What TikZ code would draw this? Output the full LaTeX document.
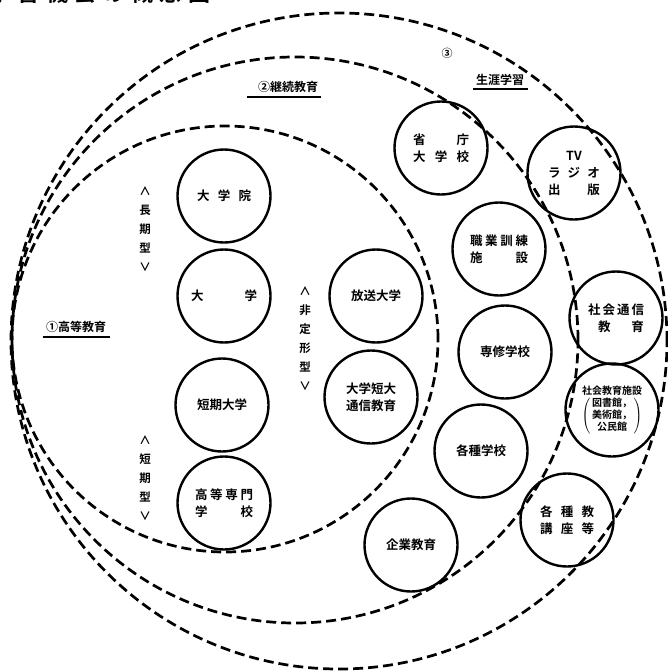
\documentclass[tikz,border=0pt]{standalone}
\usepackage{fontspec}
\setmainfont{Noto Sans CJK JP}[BoldFont={Noto Sans CJK JP Bold}]
\newcommand\spreadtxt[2]{\makebox[#1][s]{#2}}
\begin{document}
\begin{tikzpicture}[x=1pt,y=-1pt,
  zone/.style={circle, draw, line width=2.7pt, dash pattern=on 10pt off 5pt, inner sep=0pt},
  sub/.style={circle, draw, line width=2.4pt, minimum size=93pt, inner sep=0pt, align=center,
    font=\bfseries\fontsize{12.5}{17}\selectfont},
  lab/.style={font=\bfseries\fontsize{12}{14}\selectfont, inner sep=1pt},
  vlab/.style={font=\bfseries\fontsize{11.5}{19}\selectfont, align=center, inner sep=0pt},
  uline/.style={line width=1.6pt}]
\useasboundingbox (0,0) rectangle (667,672);

% title, cut off at the top edge
\node[anchor=base west, inner sep=0pt, font=\bfseries\fontsize{22}{22}\selectfont] (title) at (-11,1)
  {\spreadtxt{221pt}{学\hfill 習\hfill 機\hfill 会\hfill の\hfill 概\hfill 念\hfill 図}};

% zones
\node[zone, minimum size=656pt] (life) at (339,341) {};
\node[zone, minimum size=566pt] (cont) at (295,340) {};
\node[zone, minimum size=426pt] (high) at (225,339) {};

% zone labels
\node[lab] (l1) at (76,327) {①高等教育};
\draw[uline] ([xshift=-2pt,yshift=-3pt]l1.south west) -- ([xshift=3pt,yshift=-3pt]l1.south east);
\node[lab] (l2) at (288,87) {②継続教育};
\draw[uline] ([xshift=-10pt,yshift=-3pt]l2.south west) -- ([xshift=2pt,yshift=-3pt]l2.south east);
\node[lab, font=\bfseries\fontsize{11}{12}\selectfont] (l3) at (447,53) {③};
\node[lab] (l3b) at (500,80) {生涯学習};
\draw[uline] ([xshift=-2pt,yshift=-2pt]l3b.south west) -- ([xshift=3pt,yshift=-2pt]l3b.south east);

% vertical labels
\node[vlab] (long) at (145,229) {∧\\長\\期\\型\\∨};
\node[vlab] (short) at (145,478) {∧\\短\\期\\型\\∨};
\node[vlab] (nonf) at (305,339) {∧\\非\\定\\形\\型\\∨};

% higher education
\node[sub] (grad) at (224,196) {\spreadtxt{54pt}{大\hfill 学\hfill 院}};
\node[sub] (univ) at (224,296) {\spreadtxt{66pt}{大\hfill 学}};
\node[sub] (junior) at (222,405) {短期大学};
\node[sub] (tech) at (224,503) {\spreadtxt{58pt}{高\hfill 等\hfill 専\hfill 門}\\\spreadtxt{58pt}{学\hfill 校}};

% continuing education
\node[sub] (open) at (376,296) {放送大学};
\node[sub] (corr) at (371,397) {大学短大\\通信教育};
\node[sub] (min) at (441,148) {\spreadtxt{56pt}{省\hfill 庁}\\\spreadtxt{56pt}{大\hfill 学\hfill 校}};
\node[sub] (voc) at (499,249) {\spreadtxt{58pt}{職\hfill 業\hfill 訓\hfill 練}\\\spreadtxt{58pt}{施\hfill 設}};
\node[sub] (spec) at (505,352) {専修学校};
\node[sub] (misc) at (481,451) {各種学校};
\node[sub] (corp) at (411,545) {企業教育};

% lifelong learning
\node[sub] (tv) at (574,173) {TV\\\spreadtxt{52pt}{ラ\hfill ジ\hfill オ}\\\spreadtxt{52pt}{出\hfill 版}};
\node[sub] (soccorr) at (616,318) {\spreadtxt{56pt}{社\hfill 会\hfill 通\hfill 信}\\\hspace*{10pt}\spreadtxt{46pt}{教\hfill 育}};
\node[sub, font=\bfseries\fontsize{10}{12}\selectfont] (socfac) at (612,410)
  {社会教育施設\\[1pt]$\left(\,\vcenter{\hbox{\begin{tabular}{@{}c@{}}\bfseries 図書館，\\\bfseries 美術館，\\\bfseries 公民館\end{tabular}}}\,\right)$};
\node[sub] (course) at (567,520) {\spreadtxt{54pt}{各\hfill 種\hfill 教}\\\spreadtxt{54pt}{講\hfill 座\hfill 等}};
\end{tikzpicture}
\end{document}
